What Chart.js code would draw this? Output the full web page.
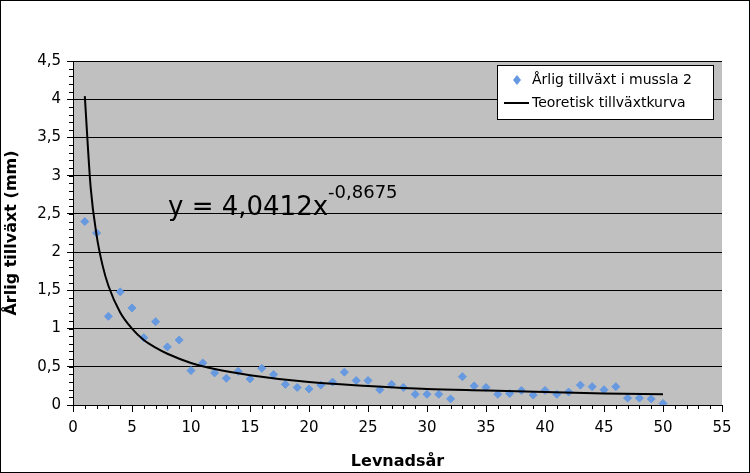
<!DOCTYPE html>
<html><head><meta charset="utf-8">
<script src="https://cdn.jsdelivr.net/npm/chart.js@4/dist/chart.umd.min.js"></script>
<style>body{margin:0;background:#fff}#wrap{width:750px;height:473px}</style>
</head><body><div id="wrap"><canvas id="c" width="750" height="473"></canvas></div>
<script>
const years = Array.from({length: 50}, (_, i) => i + 1);
const growth = [2.40, 2.25, 1.16, 1.48, 1.27, 0.88, 1.09, 0.76, 0.85, 0.45,
  0.55, 0.42, 0.35, 0.44, 0.34, 0.48, 0.40, 0.27, 0.23, 0.21,
  0.26, 0.30, 0.43, 0.32, 0.32, 0.20, 0.27, 0.23, 0.14, 0.14,
  0.14, 0.08, 0.37, 0.25, 0.23, 0.14, 0.15, 0.19, 0.13, 0.19,
  0.14, 0.17, 0.26, 0.24, 0.20, 0.24, 0.09, 0.09, 0.08, 0.02];
const curveX = [1, 1.5, 2, 2.5, 3, 4, 5, 6, 7, 8, 10, 12, 15, 20, 25, 30, 35, 40, 45, 50];
const curveY = [4.04, 2.84, 2.22, 1.83, 1.56, 1.21, 1.00, 0.85, 0.75, 0.67, 0.55, 0.47, 0.39, 0.30, 0.25, 0.21, 0.19, 0.17, 0.15, 0.14];

const font = 'Verdana, "DejaVu Sans", sans-serif';

const decor = {
  id: 'decor',
  beforeDraw(chart) {
    const {ctx, chartArea: a} = chart;
    ctx.save();
    ctx.fillStyle = '#c0c0c0';
    ctx.fillRect(a.left, a.top, a.right - a.left, a.bottom - a.top);
    ctx.restore();
  },
  afterDraw(chart) {
    const {ctx, chartArea: a, scales: {x, y}} = chart;
    ctx.save();
    ctx.strokeStyle = '#000'; ctx.lineWidth = 1;
    ctx.strokeRect(0.5, 0.5, 749, 472);
    ctx.beginPath();
    for (let v = 0; v <= 4.5001; v += 0.1) {
      const py = Math.round(y.getPixelForValue(v)) + 0.5;
      ctx.moveTo(a.left - 4, py); ctx.lineTo(a.left, py);
    }
    for (let v = 0; v <= 55; v += 1) {
      const px = Math.round(x.getPixelForValue(v)) + 0.5;
      ctx.moveTo(px, a.bottom); ctx.lineTo(px, a.bottom + (v % 5 ? 4 : 7));
    }
    ctx.moveTo(a.left + 0.5, a.top); ctx.lineTo(a.left + 0.5, a.bottom);
    ctx.stroke();
    // equation
    ctx.fillStyle = '#000';
    ctx.font = '26px ' + font;
    ctx.textBaseline = 'alphabetic';
    const t = 'y = 4,0412x';
    ctx.fillText(t, 168, 215);
    const w = ctx.measureText(t).width;
    ctx.font = '18px ' + font;
    ctx.fillText('-0,8675', 168 + w, 198);
    // legend
    ctx.fillStyle = '#fff';
    ctx.fillRect(497, 65, 217, 55);
    ctx.strokeRect(497.5, 65.5, 216, 54);
    ctx.fillStyle = '#000';
    ctx.font = '14px ' + font;
    ctx.textBaseline = 'middle';
    ctx.fillText('Årlig tillväxt i mussla 2', 532, 80);
    ctx.fillText('Teoretisk tillväxtkurva', 532, 103);
    ctx.fillStyle = '#6699e0';
    ctx.beginPath();
    ctx.moveTo(517, 75); ctx.lineTo(521, 80); ctx.lineTo(517, 85); ctx.lineTo(513, 80); ctx.closePath();
    ctx.fill();
    ctx.strokeStyle = '#000'; ctx.lineWidth = 2;
    ctx.beginPath(); ctx.moveTo(504, 103); ctx.lineTo(529, 103); ctx.stroke();
    ctx.restore();
  }
};

new Chart(document.getElementById('c'), {
  type: 'scatter',
  data: {
    datasets: [{
      label: 'Årlig tillväxt i mussla 2',
      data: years.map((v, i) => ({x: v, y: growth[i]})),
      pointStyle: 'rectRot',
      pointRadius: 4,
      backgroundColor: '#6699e0',
      borderColor: '#6699e0',
      order: 2
    }, {
      label: 'Teoretisk tillväxtkurva',
      type: 'line',
      data: curveX.map((v, i) => ({x: v, y: curveY[i]})),
      borderColor: '#000',
      borderWidth: 2,
      pointRadius: 0,
      cubicInterpolationMode: 'monotone',
      fill: false,
      order: 1
    }]
  },
  options: {
    responsive: false,
    animation: false,
    layout: {padding: {left: 0, right: 28, top: 61, bottom: 0}},
    plugins: {legend: {display: false}, tooltip: {enabled: false}},
    scales: {
      x: {
        type: 'linear', min: 0, max: 55,
        ticks: {stepSize: 5, color: '#000', font: {size: 15, family: font}, padding: 6},
        grid: {display: false},
        border: {color: '#000'},
        title: {display: true, text: 'Levnadsår', color: '#000', font: {size: 16, weight: 'bold', family: font}, padding: 2},
        afterFit(s) { s.height = 68; }
      },
      y: {
        min: 0, max: 4.5,
        ticks: {stepSize: 0.5, color: '#000', font: {size: 15, family: font}, padding: 6,
          callback: v => String(v).replace('.', ',')},
        grid: {color: '#000', drawTicks: true, tickLength: 6},
        border: {color: '#000'},
        title: {display: true, text: 'Årlig tillväxt (mm)', color: '#000', font: {size: 16, weight: 'bold', family: font}, padding: 2},
        afterFit(s) { s.width = 73; }
      }
    }
  },
  plugins: [decor]
});
</script></body></html>
